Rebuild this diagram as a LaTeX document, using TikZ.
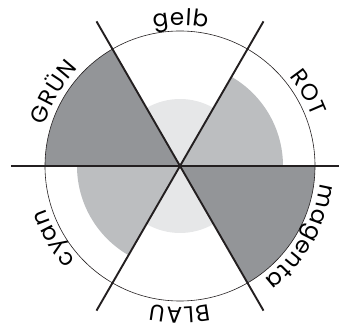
\documentclass[tikz,border=0pt]{standalone}
\usepackage{fontspec}
\setmainfont{Poppins}
\usetikzlibrary{decorations.text}
\definecolor{darkg}{HTML}{939598}
\definecolor{midg}{HTML}{BCBEC0}
\definecolor{lightg}{HTML}{E6E7E8}
\definecolor{ink}{HTML}{231F20}
\newcommand\lblfont{\fontsize{23pt}{23pt}\selectfont\kern1pt}
\tikzset{
  axis/.style={draw=ink, line width=1.9pt},
  rim/.style={draw=ink, line width=0.6pt},
  lbl/.style={decorate, decoration={text along path, text format delimiters={[}{]},
     text={[\lblfont]#1}, text align=center}}
}
\begin{document}
\begin{tikzpicture}[x=1pt,y=1pt]
\useasboundingbox (-180,-162) rectangle (159,166);
\coordinate (c) at (0,0);
% sectors
\fill[darkg] (c) -- (120:135) arc[start angle=120, end angle=180, radius=135] -- cycle;
\fill[darkg] (c) -- (300:135) arc[start angle=300, end angle=360, radius=135] -- cycle;
\fill[midg] (c) -- (0:103) arc[start angle=0, end angle=60, radius=103] -- cycle;
\fill[midg] (c) -- (180:103) arc[start angle=180, end angle=240, radius=103] -- cycle;
\fill[lightg] (c) -- (60:67) arc[start angle=60, end angle=120, radius=67] -- cycle;
\fill[lightg] (c) -- (240:67) arc[start angle=240, end angle=300, radius=67] -- cycle;
% rim
\draw[rim] (c) circle[radius=135];
% axes
\coordinate (h1) at (180:169);
\coordinate (h2) at (0:169);
\coordinate (d1) at (60:167);
\coordinate (d2) at (240:167);
\coordinate (e1) at (120:167);
\coordinate (e2) at (300:167);
\draw[axis] (h1) -- (h2);
\draw[axis] (d1) -- (d2);
\draw[axis] (e1) -- (e2);
% labels
\path[lbl={gelb}] (130:141) arc[start angle=130, end angle=50, radius=141];
\path[lbl={ROT}] (70:141) arc[start angle=70, end angle=-10, radius=141];
\path[lbl={GRÜN}] (190:141) arc[start angle=190, end angle=110, radius=141];
\path[lbl={magenta}] (10:141) arc[start angle=10, end angle=-70, radius=141];
\path[lbl={BLAU}] (310:141) arc[start angle=310, end angle=230, radius=141];
\path[lbl={cyan}] (250:141) arc[start angle=250, end angle=170, radius=141];
\end{tikzpicture}
\end{document}
